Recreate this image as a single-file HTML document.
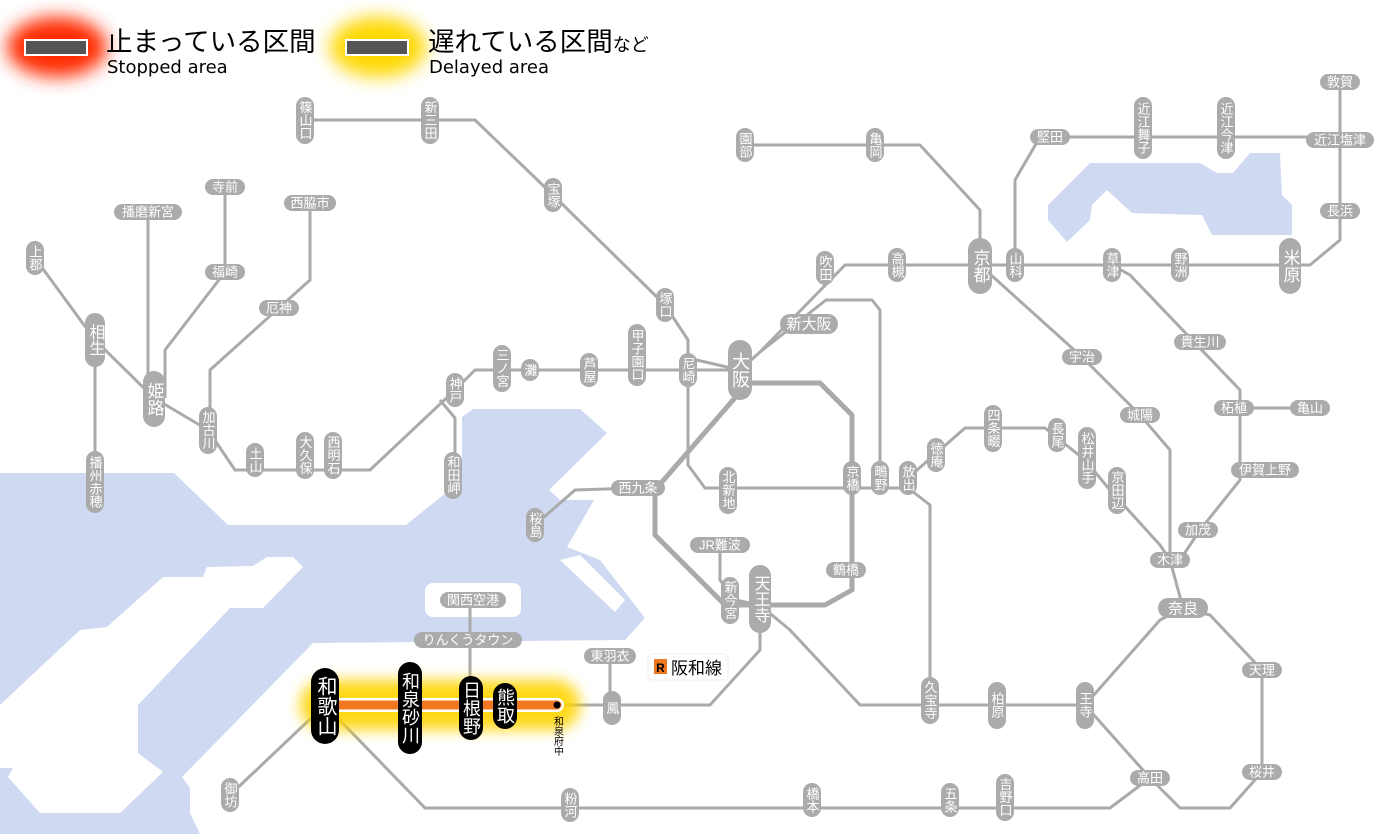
<!DOCTYPE html>
<html><head><meta charset="utf-8"><style>
html,body{margin:0;padding:0;background:#fff}
svg{display:block}
.t{fill:#fff;font-family:"Liberation Sans","Noto Sans CJK JP",sans-serif;font-size:13px}
.v{writing-mode:vertical-rl}
.p{fill:#ababab}
.b{fill:#000}
.l{fill:none;stroke:#aaa;stroke-width:3;stroke-linejoin:round}
</style></head><body>
<svg width="1400" height="834" viewBox="0 0 1400 834" xmlns="http://www.w3.org/2000/svg">
<defs>
<filter id="bl" x="-50%" y="-50%" width="200%" height="200%"><feGaussianBlur stdDeviation="9"/></filter>
<filter id="bl2" x="-50%" y="-50%" width="200%" height="200%"><feGaussianBlur stdDeviation="7"/></filter>
</defs>
<!-- water -->
<g fill="#cfdaf2">
<polygon points="0,473 174,473 228,525 406,525 462,480 462,417 473,409 580,409 607,433 549,490 560,500 594,500 567,547 600,560 645,618 625,640 313,643 182,777 190,788 190,813 200,834 0,834"/>
<polygon points="1048,205 1090,163 1200,163 1217,173 1233,173 1250,153 1280,153 1282,195 1292,205 1292,235 1212,235 1202,215 1132,213 1107,190 1092,205 1090,220 1067,242 1048,220"/>
</g>
<g fill="#fff">
<polygon points="303,567 293,557 267,557 253,566 207,567 203,577 163,577 107,627 80,630 0,705 0,768 13,768 8,777 40,813 120,813 163,772 138,753 138,705 230,608 263,608"/>
<rect x="425" y="583" width="96" height="34" rx="8"/>
<polygon points="560,560 580,555 625,600 615,612"/>
</g>
<!-- lines -->
<g class="l">
<polyline points="305,120 475,120 553,195 665,305 688,340 688,465 705,488 852,488 908,488"/>
<polyline points="35,258 95,340 154,398 208,430 235,470 370,470 455,390 475,370 740,370 760,352 845,265 1310,265 1340,240 1340,82"/>
<polyline points="148,212 148,398"/>
<polyline points="225,187 225,272 165,350 165,398"/>
<polyline points="310,203 310,280 210,370 210,430"/>
<polyline points="95,340 95,482"/>
<polyline points="440,400 455,418 455,475"/>
<polyline points="745,145 920,145 980,210 980,265"/>
<polyline points="1015,265 1015,180 1040,137 1340,137"/>
<polyline points="980,265 1082,357 1140,415 1170,450 1170,560 1183,608"/>
<polyline points="1112,265 1130,275 1240,390 1240,480 1200,530 1180,560"/>
<polyline points="1240,408 1310,408"/>
<polyline points="760,352 826,300 872,300 880,310 880,478"/>
<polyline points="908,488 930,505 930,705"/>
<polyline points="908,478 965,428 1045,428 1060,440 1085,460 1110,490 1160,545 1170,560"/>
<polyline points="760,605 790,630 860,705 1085,705 1160,620 1183,608 1210,615 1262,670 1262,772 1230,808 1180,808 1150,778 1085,705"/>
<polyline points="760,610 760,650 710,705 560,705"/>
<polyline points="637,488 575,490 535,525"/>
<polyline points="470,600 470,705"/>
<polyline points="610,656 610,708"/>
<polyline points="720,545 720,580 735,600 760,605"/>
<polyline points="325,705 230,795"/>
<polyline points="325,705 425,808 1110,808 1150,778"/>
<polyline points="740,370 688,358"/>
<polyline style="stroke-width:5" points="740,383 820,383 852,415 852,590 825,605 725,605 655,535 655,490 740,392"/>
</g>
<!-- highlight -->
<rect x="300" y="680" width="280" height="50" rx="25" fill="#ffd400" filter="url(#bl2)" opacity="0.9"/>
<line x1="325" y1="705" x2="557" y2="705" stroke="#fff" stroke-width="14" stroke-linecap="round"/>
<line x1="325" y1="705" x2="557" y2="705" stroke="#f07820" stroke-width="9" stroke-linecap="round"/>
<circle cx="557" cy="705" r="3.5" fill="#000"/>
<text x="557" y="716" class="v" style="font-family:'Liberation Sans','Noto Sans CJK JP',sans-serif;font-size:10px" text-anchor="start">和泉府中</text>

<!-- legend -->
<ellipse cx="57" cy="47" rx="50" ry="30" fill="#ff2a00" filter="url(#bl)"/>
<rect x="24" y="39" width="64" height="17" fill="#fff"/><rect x="26" y="41" width="60" height="13" fill="#555"/>
<text x="106" y="51" style="font-family:'Liberation Sans','Noto Sans CJK JP',sans-serif;font-size:26.5px">止まっている区間</text>
<text x="107" y="73" style="font-family:'DejaVu Sans',sans-serif;font-size:18px">Stopped area</text>
<ellipse cx="378" cy="47" rx="48" ry="30" fill="#ffd800" filter="url(#bl)"/>
<rect x="345" y="39" width="64" height="17" fill="#fff"/><rect x="347" y="41" width="60" height="13" fill="#555"/>
<text x="428" y="51" style="font-family:'Liberation Sans','Noto Sans CJK JP',sans-serif;font-size:26.5px">遅れている区間<tspan style="font-size:18px">など</tspan></text>
<text x="429" y="73" style="font-family:'DejaVu Sans',sans-serif;font-size:18px">Delayed area</text>

<!-- 阪和線 label -->
<rect x="648" y="654" width="80" height="26" rx="4" fill="#fff" stroke="#eee"/>
<rect x="654" y="659" width="13" height="15" fill="#f07820"/>
<text x="660.5" y="672" text-anchor="middle" style="font-family:'Liberation Sans',sans-serif;font-size:12px;font-weight:bold">R</text>
<text x="671" y="674" style="font-family:'Liberation Sans','Noto Sans CJK JP',sans-serif;font-size:17px">阪和線</text>

<!-- vertical stations -->
<g>
<rect class="p" x="296" y="97" width="18" height="47" rx="9"/><text class="t v" x="305" y="120" text-anchor="middle">篠山口</text>
<rect class="p" x="421" y="97" width="18" height="47" rx="9"/><text class="t v" x="430" y="120" text-anchor="middle">新三田</text>
<rect class="p" x="544" y="178" width="18" height="34" rx="9"/><text class="t v" x="553" y="195" text-anchor="middle">宝塚</text>
<rect class="p" x="656" y="288" width="18" height="34" rx="9"/><text class="t v" x="665" y="305" text-anchor="middle">塚口</text>
<rect class="p" x="679" y="353" width="18" height="34" rx="9"/><text class="t v" x="688" y="370" text-anchor="middle">尼崎</text>
<rect class="p" x="628" y="324" width="18" height="62" rx="9"/><text class="t v" x="637" y="355" text-anchor="middle">甲子園口</text>
<rect class="p" x="580" y="353" width="18" height="34" rx="9"/><text class="t v" x="589" y="370" text-anchor="middle">芦屋</text>
<rect class="p" x="521" y="359" width="18" height="22" rx="9"/><text class="t v" x="530" y="370" text-anchor="middle">灘</text>
<rect class="p" x="493" y="345" width="18" height="47" rx="9"/><text class="t v" x="502" y="368" text-anchor="middle">三ノ宮</text>
<rect class="p" x="446" y="373" width="18" height="34" rx="9"/><text class="t v" x="455" y="390" text-anchor="middle">神戸</text>
<rect class="p" x="444" y="452" width="18" height="47" rx="9"/><text class="t v" x="453" y="475" text-anchor="middle">和田岬</text>
<rect class="p" x="324" y="432" width="18" height="47" rx="9"/><text class="t v" x="333" y="455" text-anchor="middle">西明石</text>
<rect class="p" x="296" y="432" width="18" height="47" rx="9"/><text class="t v" x="305" y="455" text-anchor="middle">大久保</text>
<rect class="p" x="246" y="443" width="18" height="34" rx="9"/><text class="t v" x="255" y="460" text-anchor="middle">土山</text>
<rect class="p" x="199" y="407" width="18" height="47" rx="9"/><text class="t v" x="208" y="430" text-anchor="middle">加古川</text>
<rect class="p" x="143" y="371" width="22" height="56" rx="11"/><text class="t v" x="154" y="399" text-anchor="middle" style="font-size:17px">姫路</text>
<rect class="p" x="85" y="313" width="20" height="54" rx="10"/><text class="t v" x="95" y="340" text-anchor="middle" style="font-size:16px">相生</text>
<rect class="p" x="26" y="241" width="18" height="34" rx="9"/><text class="t v" x="35" y="258" text-anchor="middle">上郡</text>
<rect class="p" x="86" y="451" width="18" height="62" rx="9"/><text class="t v" x="95" y="482" text-anchor="middle">播州赤穂</text>
<rect class="p" x="736" y="128" width="18" height="34" rx="9"/><text class="t v" x="745" y="145" text-anchor="middle">園部</text>
<rect class="p" x="866" y="128" width="18" height="34" rx="9"/><text class="t v" x="875" y="145" text-anchor="middle">亀岡</text>
<rect class="p" x="1006" y="248" width="18" height="34" rx="9"/><text class="t v" x="1015" y="265" text-anchor="middle">山科</text>
<rect class="p" x="1134" y="97" width="18" height="62" rx="9"/><text class="t v" x="1143" y="128" text-anchor="middle">近江舞子</text>
<rect class="p" x="1217" y="97" width="18" height="62" rx="9"/><text class="t v" x="1226" y="128" text-anchor="middle">近江今津</text>
<rect class="p" x="1171" y="248" width="18" height="34" rx="9"/><text class="t v" x="1180" y="265" text-anchor="middle">野洲</text>
<rect class="p" x="1103" y="248" width="18" height="34" rx="9"/><text class="t v" x="1112" y="265" text-anchor="middle">草津</text>
<rect class="p" x="888" y="248" width="18" height="34" rx="9"/><text class="t v" x="897" y="265" text-anchor="middle">高槻</text>
<rect class="p" x="816" y="251" width="18" height="34" rx="9"/><text class="t v" x="825" y="268" text-anchor="middle">吹田</text>
<rect class="p" x="1076" y="682" width="18" height="47" rx="9"/><text class="t v" x="1085" y="705" text-anchor="middle">王寺</text>
<rect class="p" x="988" y="682" width="18" height="47" rx="9"/><text class="t v" x="997" y="705" text-anchor="middle">柏原</text>
<rect class="p" x="921" y="677" width="18" height="47" rx="9"/><text class="t v" x="930" y="700" text-anchor="middle">久宝寺</text>
<rect class="p" x="899" y="461" width="18" height="34" rx="9"/><text class="t v" x="908" y="478" text-anchor="middle">放出</text>
<rect class="p" x="871" y="461" width="18" height="34" rx="9"/><text class="t v" x="880" y="478" text-anchor="middle">鴫野</text>
<rect class="p" x="843" y="461" width="18" height="34" rx="9"/><text class="t v" x="852" y="478" text-anchor="middle">京橋</text>
<rect class="p" x="927" y="438" width="18" height="34" rx="9"/><text class="t v" x="936" y="455" text-anchor="middle">徳庵</text>
<rect class="p" x="984" y="405" width="18" height="47" rx="9"/><text class="t v" x="993" y="428" text-anchor="middle">四条畷</text>
<rect class="p" x="1048" y="418" width="18" height="34" rx="9"/><text class="t v" x="1057" y="435" text-anchor="middle">長尾</text>
<rect class="p" x="1078" y="427" width="18" height="62" rx="9"/><text class="t v" x="1087" y="458" text-anchor="middle">松井山手</text>
<rect class="p" x="1108" y="467" width="18" height="47" rx="9"/><text class="t v" x="1117" y="490" text-anchor="middle">京田辺</text>
<rect class="p" x="719" y="467" width="18" height="47" rx="9"/><text class="t v" x="728" y="490" text-anchor="middle">北新地</text>
<rect class="p" x="526" y="508" width="18" height="34" rx="9"/><text class="t v" x="535" y="525" text-anchor="middle">桜島</text>
<rect class="p" x="721" y="577" width="18" height="47" rx="9"/><text class="t v" x="730" y="600" text-anchor="middle">新今宮</text>
<rect class="p" x="603" y="691" width="18" height="34" rx="9"/><text class="t v" x="612" y="708" text-anchor="middle">鳳</text>
<rect class="p" x="221" y="778" width="18" height="34" rx="9"/><text class="t v" x="230" y="795" text-anchor="middle">御坊</text>
<rect class="p" x="561" y="788" width="18" height="34" rx="9"/><text class="t v" x="570" y="805" text-anchor="middle">粉河</text>
<rect class="p" x="803" y="783" width="18" height="34" rx="9"/><text class="t v" x="812" y="800" text-anchor="middle">橋本</text>
<rect class="p" x="941" y="783" width="18" height="34" rx="9"/><text class="t v" x="950" y="800" text-anchor="middle">五条</text>
<rect class="p" x="996" y="774" width="18" height="47" rx="9"/><text class="t v" x="1005" y="797" text-anchor="middle">吉野口</text>
<rect class="p" x="728" y="340" width="24" height="60" rx="12"/><text class="t v" x="740" y="370" text-anchor="middle" style="font-size:18px">大阪</text>
<rect class="p" x="968" y="238" width="24" height="56" rx="12"/><text class="t v" x="980" y="266" text-anchor="middle" style="font-size:17px">京都</text>
<rect class="p" x="1279" y="238" width="22" height="56" rx="11"/><text class="t v" x="1290" y="266" text-anchor="middle" style="font-size:17px">米原</text>
<rect class="p" x="749" y="565" width="22" height="68" rx="11"/><text class="t v" x="760" y="599" text-anchor="middle" style="font-size:16px">天王寺</text>
<rect class="b" x="311" y="668" width="28" height="76" rx="14"/><text class="t v" x="325" y="706" text-anchor="middle" style="font-size:20px">和歌山</text>
<rect class="b" x="398" y="662" width="24" height="92" rx="12"/><text class="t v" x="410" y="708" text-anchor="middle" style="font-size:18px">和泉砂川</text>
<rect class="b" x="459" y="676" width="24" height="64" rx="12"/><text class="t v" x="471" y="708" text-anchor="middle" style="font-size:18px">日根野</text>
<rect class="b" x="493" y="683" width="24" height="46" rx="12"/><text class="t v" x="505" y="706" text-anchor="middle" style="font-size:18px">熊取</text>
</g>
<!-- horizontal stations -->
<g>
<rect class="p" x="114" y="204" width="68" height="16" rx="8"/><text class="t" x="148" y="216.5" text-anchor="middle">播磨新宮</text>
<rect class="p" x="205" y="179" width="40" height="16" rx="8"/><text class="t" x="225" y="191.5" text-anchor="middle">寺前</text>
<rect class="p" x="205" y="264" width="40" height="16" rx="8"/><text class="t" x="225" y="276.5" text-anchor="middle">福崎</text>
<rect class="p" x="284" y="195" width="52" height="16" rx="8"/><text class="t" x="310" y="207.5" text-anchor="middle">西脇市</text>
<rect class="p" x="259" y="300" width="40" height="16" rx="8"/><text class="t" x="279" y="312.5" text-anchor="middle">厄神</text>
<rect class="p" x="1030" y="129" width="40" height="16" rx="8"/><text class="t" x="1050" y="141.5" text-anchor="middle">堅田</text>
<rect class="p" x="1320" y="74" width="40" height="16" rx="8"/><text class="t" x="1340" y="86.5" text-anchor="middle">敦賀</text>
<rect class="p" x="1306" y="132" width="68" height="16" rx="8"/><text class="t" x="1340" y="144.5" text-anchor="middle">近江塩津</text>
<rect class="p" x="1320" y="203" width="40" height="16" rx="8"/><text class="t" x="1340" y="215.5" text-anchor="middle">長浜</text>
<rect class="p" x="780" y="314" width="58" height="20" rx="10"/><text class="t" x="809" y="329" text-anchor="middle" style="font-size:15px">新大阪</text>
<rect class="p" x="1062" y="349" width="40" height="16" rx="8"/><text class="t" x="1082" y="361.5" text-anchor="middle">宇治</text>
<rect class="p" x="1120" y="407" width="40" height="16" rx="8"/><text class="t" x="1140" y="419.5" text-anchor="middle">城陽</text>
<rect class="p" x="1174" y="334" width="52" height="16" rx="8"/><text class="t" x="1200" y="346.5" text-anchor="middle">貴生川</text>
<rect class="p" x="1214" y="400" width="40" height="16" rx="8"/><text class="t" x="1234" y="412.5" text-anchor="middle">柘植</text>
<rect class="p" x="1290" y="400" width="40" height="16" rx="8"/><text class="t" x="1310" y="412.5" text-anchor="middle">亀山</text>
<rect class="p" x="1231" y="462" width="68" height="16" rx="8"/><text class="t" x="1265" y="474.5" text-anchor="middle">伊賀上野</text>
<rect class="p" x="1178" y="522" width="40" height="16" rx="8"/><text class="t" x="1198" y="534.5" text-anchor="middle">加茂</text>
<rect class="p" x="1150" y="552" width="40" height="16" rx="8"/><text class="t" x="1170" y="564.5" text-anchor="middle">木津</text>
<rect class="p" x="1158" y="598" width="50" height="20" rx="10"/><text class="t" x="1183" y="613.5" text-anchor="middle" style="font-size:15px">奈良</text>
<rect class="p" x="1242" y="662" width="40" height="16" rx="8"/><text class="t" x="1262" y="674.5" text-anchor="middle">天理</text>
<rect class="p" x="1242" y="764" width="40" height="16" rx="8"/><text class="t" x="1262" y="776.5" text-anchor="middle">桜井</text>
<rect class="p" x="1130" y="770" width="40" height="16" rx="8"/><text class="t" x="1150" y="782.5" text-anchor="middle">高田</text>
<rect class="p" x="611" y="480" width="54" height="16" rx="8"/><text class="t" x="638" y="492.5" text-anchor="middle">西九条</text>
<rect class="p" x="690" y="537" width="60" height="16" rx="8"/><text class="t" x="720" y="549.5" text-anchor="middle">JR難波</text>
<rect class="p" x="826" y="562" width="40" height="16" rx="8"/><text class="t" x="846" y="574.5" text-anchor="middle">鶴橋</text>
<rect class="p" x="440" y="592" width="66" height="16" rx="8"/><text class="t" x="473" y="604.5" text-anchor="middle">関西空港</text>
<rect class="p" x="414" y="632" width="108" height="16" rx="8"/><text class="t" x="468" y="644.5" text-anchor="middle">りんくうタウン</text>
<rect class="p" x="584" y="648" width="52" height="16" rx="8"/><text class="t" x="610" y="660.5" text-anchor="middle">東羽衣</text>
</g>
</svg>
</body></html>
